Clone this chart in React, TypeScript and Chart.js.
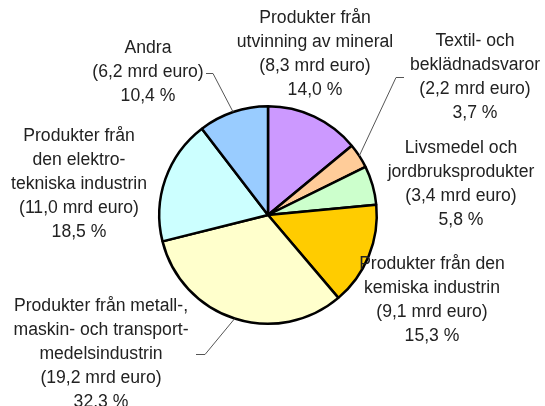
import React, { useEffect, useRef } from 'react';
import { Chart, registerables } from 'chart.js';

Chart.register(...registerables);

// ---- Data ----
const categories: string[][] = [
  ['Produkter från', 'utvinning av mineral'],
  ['Textil- och', 'beklädnadsvaror'],
  ['Livsmedel och', 'jordbruksprodukter'],
  ['Produkter från den', 'kemiska industrin'],
  ['Produkter från metall-,', 'maskin- och transport-', 'medelsindustrin'],
  ['Produkter från', 'den elektro-', 'tekniska industrin'],
  ['Andra'],
];
const valuesMrdEuro = [8.3, 2.2, 3.4, 9.1, 19.2, 11.0, 6.2];
const valueLabels = [
  '(8,3 mrd euro)',
  '(2,2 mrd euro)',
  '(3,4 mrd euro)',
  '(9,1 mrd euro)',
  '(19,2 mrd euro)',
  '(11,0 mrd euro)',
  '(6,2 mrd euro)',
];
const sharePercent = [14.0, 3.7, 5.8, 15.3, 32.3, 18.5, 10.4];
const shareLabels = ['14,0 %', '3,7 %', '5,8 %', '15,3 %', '32.3 %', '18,5 %', '10,4 %'];
const sliceColors = ['#CC99FF', '#FFCC99', '#CCFFCC', '#FFCC00', '#FFFFCC', '#CCFFFF', '#99CCFF'];

// ---- Layout (label placement, not data) ----
const labelCenters = [
  { x: 315, y: 18 },
  { x: 475, y: 41 },
  { x: 461, y: 148 },
  { x: 432, y: 264 },
  { x: 101, y: 306 },
  { x: 79, y: 136 },
  { x: 148, y: 48 },
];
const leaders: ({ elbow: [number, number]; end: [number, number] } | null)[] = [
  null,
  { elbow: [396, 77], end: [404, 77] },
  null,
  null,
  { elbow: [205, 354], end: [196, 354] },
  null,
  { elbow: [213, 73], end: [206, 73] },
];
const LINE_H = 24;
const FONT = '17.6px "Liberation Sans", Arial, sans-serif';

const labelPlugin = {
  id: 'pieLabels',
  afterDraw(chart: any) {
    const ctx = chart.ctx as CanvasRenderingContext2D;
    const meta = chart.getDatasetMeta(0);
    ctx.save();
    // leader lines
    ctx.strokeStyle = '#555';
    ctx.lineWidth = 1;
    meta.data.forEach((arc: any, i: number) => {
      const ld = leaders[i];
      if (!ld) return;
      const mid = (arc.startAngle + arc.endAngle) / 2;
      const px = arc.x + Math.cos(mid) * arc.outerRadius;
      const py = arc.y + Math.sin(mid) * arc.outerRadius;
      ctx.beginPath();
      ctx.moveTo(px, py);
      ctx.lineTo(ld.elbow[0], ld.elbow[1] + 0.5);
      ctx.lineTo(ld.end[0], ld.end[1] + 0.5);
      ctx.stroke();
    });
    // texts
    ctx.font = FONT;
    ctx.fillStyle = '#222';
    ctx.textAlign = 'center';
    ctx.textBaseline = 'middle';
    categories.forEach((lines, i) => {
      const all = [...lines, valueLabels[i], shareLabels[i]];
      const c = labelCenters[i];
      all.forEach((t, j) => ctx.fillText(t, c.x, c.y + j * LINE_H));
    });
    ctx.restore();
  },
};

export default function App() {
  const ref = useRef<HTMLCanvasElement | null>(null);
  useEffect(() => {
    document.body.style.margin = '0';
    if (!ref.current) return;
    const chart = new Chart(ref.current, {
      type: 'pie',
      data: {
        labels: categories.map((l) => l.join(' ')),
        datasets: [
          {
            data: sharePercent,
            backgroundColor: sliceColors,
            borderColor: '#000',
            borderWidth: 2.5,
          },
        ],
      },
      options: {
        responsive: false,
        animation: false,
        layout: { padding: { left: 158, right: 167, top: 105, bottom: 81 } },
        plugins: {
          legend: { display: false },
          tooltip: { enabled: false },
        },
      },
      plugins: [labelPlugin],
    });
    return () => chart.destroy();
  }, []);
  return (
    <div style={{ width: 545, height: 406, background: '#fff' }}>
      <canvas ref={ref} width={545} height={406} style={{ display: 'block' }} />
    </div>
  );
}
